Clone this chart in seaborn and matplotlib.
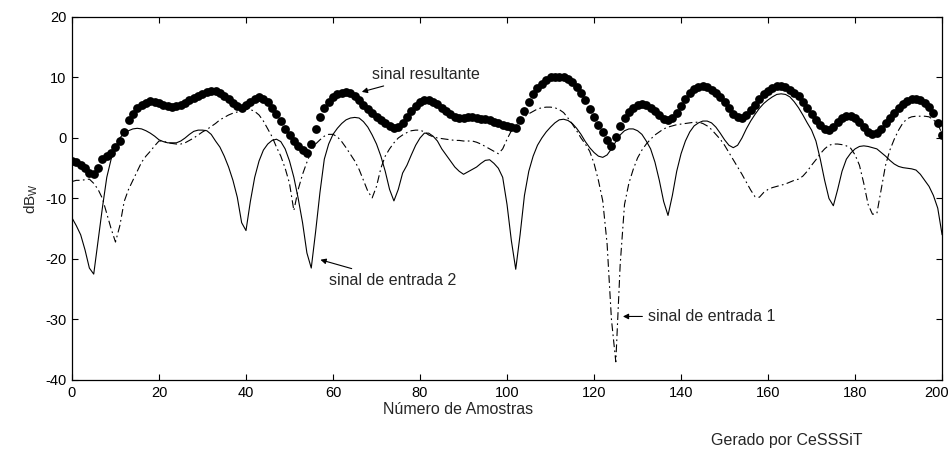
import numpy as np
import pandas as pd
import matplotlib
matplotlib.use("Agg")
import matplotlib.pyplot as plt
import matplotlib.transforms as mtransforms
import seaborn as sns

# sample index 0..200
amostras = list(range(201))

# sinal resultante (dots)
resultante = [
    -3.8, -4.0, -4.4, -5.0, -5.8, -6.0, -5.0, -3.5, -3.0, -2.5,
    -1.5, -0.5, 1.0, 3.0, 4.0, 5.0, 5.5, 5.8, 6.1, 6.0,
    5.8, 5.5, 5.3, 5.2, 5.3, 5.5, 5.8, 6.2, 6.6, 7.0,
    7.3, 7.6, 7.8, 7.8, 7.5, 7.0, 6.4, 5.8, 5.3, 5.0,
    5.4, 6.0, 6.5, 6.7, 6.5, 6.0, 5.0, 4.0, 2.8, 1.5,
    0.5, -0.5, -1.3, -2.0, -2.5, -1.0, 1.5, 3.5, 5.0, 6.0,
    6.8, 7.3, 7.5, 7.6, 7.4, 7.0, 6.3, 5.5, 4.8, 4.2,
    3.5, 3.0, 2.5, 2.0, 1.6, 1.8, 2.5, 3.5, 4.5, 5.3,
    5.9, 6.3, 6.3, 6.0, 5.6, 5.0, 4.4, 3.9, 3.5, 3.3,
    3.3, 3.4, 3.4, 3.3, 3.2, 3.1, 3.0, 2.7, 2.4, 2.2,
    2.0, 1.8, 1.7, 3.0, 4.5, 6.0, 7.2, 8.2, 9.0, 9.6,
    10.0, 10.1, 10.1, 10.0, 9.7, 9.2, 8.5, 7.5, 6.2, 4.8,
    3.5, 2.2, 1.0, -0.3, -1.3, 0.2, 2.0, 3.3, 4.3, 5.0,
    5.5, 5.6, 5.4, 5.0, 4.4, 3.8, 3.2, 2.9, 3.3, 4.2,
    5.3, 6.4, 7.4, 8.1, 8.5, 8.6, 8.4, 8.0, 7.5, 6.8,
    6.0, 5.0, 4.0, 3.4, 3.3, 3.8, 4.6, 5.5, 6.4, 7.2,
    7.8, 8.3, 8.6, 8.6, 8.4, 8.0, 7.5, 6.9, 6.0, 5.0,
    4.0, 3.0, 2.2, 1.5, 1.3, 1.8, 2.6, 3.3, 3.7, 3.7,
    3.3, 2.6, 1.8, 1.0, 0.6, 0.8, 1.5, 2.4, 3.3, 4.2,
    5.0, 5.6, 6.1, 6.4, 6.4, 6.2, 5.8, 5.2, 4.2, 2.5,
    0.5,
]

# sinal de entrada 1 (dash-dot)
entrada1 = [
    -7.2, -7.0, -7.0, -6.9, -6.8, -7.5, -8.5, -10.0, -12.5, -15.0,
    -17.2, -14.5, -10.5, -8.5, -7.0, -5.5, -4.0, -3.0, -2.2, -1.3,
    -0.5, -0.5, -0.8, -0.9, -1.0, -1.0, -0.8, -0.4, 0.0, 0.5,
    1.0, 1.4, 1.9, 2.4, 3.0, 3.4, 3.8, 4.1, 4.3, 4.6,
    4.8, 4.7, 4.4, 3.8, 2.8, 1.5, 0.2, -1.5, -3.0, -5.0,
    -7.5, -12.0, -8.5, -6.0, -4.0, -2.2, -1.0, -0.3, 0.3, 0.6,
    0.6, 0.2, -0.6, -1.6, -2.7, -3.8, -5.2, -7.0, -8.8, -9.9,
    -8.0, -5.0, -3.0, -1.8, -0.8, 0.0, 0.5, 0.9, 1.2, 1.3,
    1.3, 1.0, 0.5, 0.2, 0.0, -0.1, -0.2, -0.3, -0.4, -0.4,
    -0.5, -0.5, -0.5, -0.7, -1.0, -1.4, -1.8, -2.2, -2.6, -1.8,
    -0.2, 1.2, 2.2, 3.0, 3.5, 4.0, 4.4, 4.8, 5.0, 5.1,
    5.1, 5.0, 4.7, 4.2, 3.3, 2.3, 1.2, 0.0, -1.0, -2.2,
    -4.2, -7.0, -10.4, -17.5, -30.0, -37.0, -21.0, -11.0, -7.5, -5.2,
    -3.3, -2.0, -1.0, -0.2, 0.5, 1.0, 1.5, 1.8, 2.0, 2.2,
    2.3, 2.4, 2.5, 2.6, 2.6, 2.4, 2.0, 1.4, 0.6, -0.2,
    -1.2, -2.4, -3.6, -4.8, -6.0, -7.3, -8.6, -9.7, -9.8, -9.0,
    -8.5, -8.2, -8.0, -7.8, -7.6, -7.3, -7.0, -6.8, -6.3, -5.5,
    -4.5, -3.6, -2.6, -1.8, -1.2, -1.0, -1.0, -1.1, -1.3, -1.7,
    -2.8, -4.5, -7.5, -11.0, -12.6, -12.5, -8.5, -4.5, -2.0, -0.2,
    1.3, 2.5, 3.2, 3.5, 3.6, 3.6, 3.6, 3.5, 3.0, 2.3,
    0.7,
]

# sinal de entrada 2 (solid)
entrada2 = [
    -13.2, -14.5, -16.0, -18.5, -21.5, -22.5, -17.0, -11.5, -6.5, -3.5,
    -1.5, 0.0, 0.8, 1.2, 1.5, 1.6, 1.5, 1.2, 0.8, 0.3,
    -0.3, -0.6, -0.8, -0.8, -0.8, -0.5, 0.0, 0.6, 1.1, 1.3,
    1.3, 1.2, 0.6, -0.5, -1.5, -3.0, -4.8, -7.0, -9.8, -14.0,
    -15.3, -10.5, -6.5, -3.8, -2.0, -1.0, -0.4, -0.2, -0.6, -1.8,
    -3.8, -6.5, -10.0, -14.0, -19.0, -21.5, -15.5, -9.0, -3.5, -1.0,
    0.6, 1.6, 2.4, 3.0, 3.3, 3.4, 3.3, 2.7, 1.8, 0.5,
    -1.0, -3.0, -5.5, -8.5, -10.4, -8.5, -5.8, -4.5, -2.8, -1.2,
    0.0, 0.8, 0.8, 0.3, -0.5, -1.8, -2.8, -3.8, -4.8, -5.5,
    -6.0, -5.6, -5.2, -4.8, -4.2, -3.7, -3.6, -4.2, -5.0, -6.5,
    -11.0, -17.0, -21.7, -16.0, -9.5, -5.5, -3.0, -1.2, 0.0, 1.0,
    1.8, 2.5, 3.0, 3.1, 2.9, 2.4, 1.6, 0.6, -0.6, -1.6,
    -2.4, -3.0, -3.2, -2.8, -1.8, -0.6, 0.5, 1.2, 1.5, 1.5,
    1.2, 0.6, -0.5, -1.8, -4.0, -7.0, -10.5, -12.8, -9.5, -5.5,
    -2.6, -0.5, 1.0, 2.0, 2.5, 2.8, 2.8, 2.5, 1.8, 0.8,
    -0.3, -1.2, -1.6, -1.2, 0.0, 1.5, 2.8, 3.9, 4.9, 5.7,
    6.3, 6.8, 7.2, 7.3, 7.2, 6.8, 6.0, 5.0, 3.8, 2.5,
    1.3, -0.5, -3.5, -7.0, -10.0, -11.2, -8.5, -5.5, -3.5, -2.5,
    -1.8, -1.4, -1.3, -1.4, -1.6, -1.8, -2.4, -3.0, -3.7, -4.3,
    -4.7, -4.9, -5.0, -5.1, -5.3, -6.0, -7.0, -8.0, -9.5, -11.6,
    -16.0,
]

xticks = list(range(0, 201, 20))
yticks = list(range(-40, 21, 10))

df = pd.DataFrame({"amostra": amostras, "resultante": resultante,
                   "entrada1": entrada1, "entrada2": entrada2})

sns.set_style("ticks")
plt.rcParams['font.family'] = ['Liberation Sans', 'DejaVu Sans']
plt.rcParams['axes.unicode_minus'] = False

fig = plt.figure(figsize=(9.52, 4.63), dpi=100)
ax = fig.add_axes([0.0756, 0.1793, 0.914, 0.784])

sns.lineplot(data=df, x="amostra", y="entrada2", ax=ax, color="black",
             linewidth=0.8, linestyle="-")
sns.lineplot(data=df, x="amostra", y="entrada1", ax=ax, color="black",
             linewidth=0.8, linestyle=(0, (7, 3, 1.5, 3)))
sns.scatterplot(data=df, x="amostra", y="resultante", ax=ax, color="black",
                s=40, linewidth=0, zorder=3)

ax.set_xlim(0, 200)
ax.set_ylim(-40, 20)
ax.set_xticks(xticks)
ax.set_yticks(yticks)
ax.tick_params(direction="in", length=4, width=0.8, top=True, right=True,
               labelsize=10.5, colors="black", pad=4)
for sp in ax.spines.values():
    sp.set_visible(True)
    sp.set_linewidth(0.9)
    sp.set_color("black")

# keep the last x label inside the figure
last = ax.get_xticklabels()[-1]
last.set_transform(last.get_transform() +
                   mtransforms.ScaledTranslation(-0.06, 0, fig.dpi_scale_trans))

ax.set_xlabel("")
ax.set_ylabel(r"dB$_\mathregular{W}$", fontsize=11, labelpad=4)
fig.text(458 / 952, 1 - 410 / 463, "Número de Amostras", fontsize=11.5,
         ha="center", va="center")
fig.text(787 / 952, 1 - 441 / 463, "Gerado por CeSSSiT", fontsize=11.5,
         ha="center", va="center")

arrow = dict(arrowstyle="-|>", color="black", lw=0.8, mutation_scale=8)
ax.annotate("sinal resultante", xy=(66, 7.5), xytext=(69, 10.5),
            fontsize=11.5, ha="left", va="center", arrowprops=arrow)
ax.annotate("sinal de entrada 2", xy=(56.5, -20.0), xytext=(59, -23.5),
            fontsize=11.5, ha="left", va="center", arrowprops=arrow)
ax.annotate("sinal de entrada 1", xy=(126, -29.5), xytext=(132.5, -29.5),
            fontsize=11.5, ha="left", va="center", arrowprops=arrow)

fig.savefig("out.png", dpi=100)
